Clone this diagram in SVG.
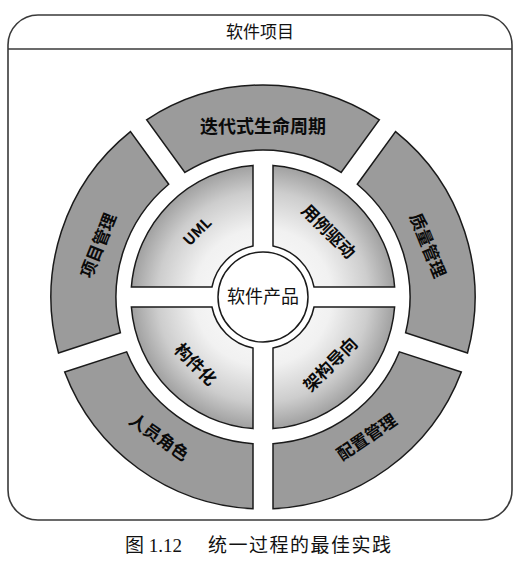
<svg xmlns="http://www.w3.org/2000/svg" width="530" height="564" viewBox="0 0 530 564">
<style>
.frame{fill:#ffffff;stroke:#3a3a3a;stroke-width:1.6}
.outer{fill:#9b9b9b;stroke:#1a1a1a;stroke-width:1.5}
.inner{fill:url(#ig);stroke:#1a1a1a;stroke-width:1.5}
.hub{fill:#ffffff;stroke:#1a1a1a;stroke-width:1.5}
.lbl{font-family:"Noto Sans CJK SC","Liberation Sans",sans-serif;font-weight:bold;fill:#0a0a0a;text-anchor:middle;dominant-baseline:central}
.plain{font-family:"Liberation Serif","Noto Sans CJK SC",serif;fill:#111;text-anchor:middle;dominant-baseline:central}
</style>
<defs>
<radialGradient id="ig" gradientUnits="userSpaceOnUse" cx="263" cy="297" r="132">
<stop offset="0" stop-color="#ffffff"/>
<stop offset="0.52" stop-color="#f1f1f1"/>
<stop offset="0.8" stop-color="#cdcdcd"/>
<stop offset="1" stop-color="#a0a0a0"/>
</radialGradient>
</defs>
<g id="frame">
<rect class="frame" x="8" y="15" width="504" height="505" rx="30" ry="30"/>
<line x1="8" y1="49" x2="512" y2="49" stroke="#3a3a3a" stroke-width="1.6"/>
<text class="plain" x="260" y="32" font-size="17">软件项目</text>
</g>
<g id="connectors"></g>
<g id="seg-iterative">
<path class="outer" d="M 146.62 119.80 A 212 212 0 0 1 379.38 119.80 L 341.11 172.47 A 147 147 0 0 0 184.89 172.47 Z"/>
<text class="lbl" x="263" y="125" font-size="18">迭代式生命周期</text>
</g>
<g id="seg-quality">
<path class="outer" d="M 395.57 131.56 A 212 212 0 0 1 467.49 352.93 L 405.57 332.81 A 147 147 0 0 0 357.30 184.23 Z"/>
<text class="lbl" x="429" y="245" font-size="17" transform="rotate(68 429 245)">质量管理</text>
</g>
<g id="seg-pm">
<path class="outer" d="M 130.43 131.56 A 212 212 0 0 0 58.51 352.93 L 120.43 332.81 A 147 147 0 0 1 168.70 184.23 Z"/>
<text class="lbl" x="97" y="245" font-size="17" transform="rotate(-68 97 245)">项目管理</text>
</g>
<g id="seg-config">
<path class="outer" d="M 461.31 371.95 A 212 212 0 0 1 273 508.76 L 273 443.66 A 147 147 0 0 0 399.39 351.83 Z"/>
<text class="lbl" x="366" y="436" font-size="17" transform="rotate(-34 366 436)">配置管理</text>
</g>
<g id="seg-roles">
<path class="outer" d="M 64.69 371.95 A 212 212 0 0 0 253 508.76 L 253 443.66 A 147 147 0 0 1 126.61 351.83 Z"/>
<text class="lbl" x="160" y="436" font-size="17" transform="rotate(35 160 436)">人员角色</text>
</g>
<g id="q-uml">
<path class="inner" d="M 253 165.38 A 132 132 0 0 0 131.38 287 L 211.97 287 A 52 52 0 0 1 253 245.97 Z"/>
<text class="lbl" x="196.5" y="230.5" font-size="15" transform="rotate(-45 196.5 230.5)">UML</text>
</g>
<g id="q-usecase">
<path class="inner" d="M 273 165.38 A 132 132 0 0 1 394.62 287 L 314.03 287 A 52 52 0 0 0 273 245.97 Z"/>
<text class="lbl" x="329.5" y="230.5" font-size="17" transform="rotate(45 329.5 230.5)">用例驱动</text>
</g>
<g id="q-component">
<path class="inner" d="M 253 428.62 A 132 132 0 0 1 131.38 307 L 211.97 307 A 52 52 0 0 0 253 348.03 Z"/>
<text class="lbl" x="196.5" y="363.5" font-size="17" transform="rotate(45 196.5 363.5)">构件化</text>
</g>
<g id="q-arch">
<path class="inner" d="M 273 428.62 A 132 132 0 0 0 394.62 307 L 314.03 307 A 52 52 0 0 1 273 348.03 Z"/>
<text class="lbl" x="329.5" y="363.5" font-size="17" transform="rotate(-45 329.5 363.5)">架构导向</text>
</g>
<g id="hub">
<circle class="hub" cx="263" cy="297" r="45"/>
<text class="plain" x="263" y="297" font-size="18">软件产品</text>
</g>
<text font-family="Liberation Serif,'Noto Sans CJK SC',serif" font-size="19" fill="#111" x="125" y="552">图 1.12<tspan x="208" letter-spacing="1.5">统一过程的最佳实践</tspan></text>
</svg>
